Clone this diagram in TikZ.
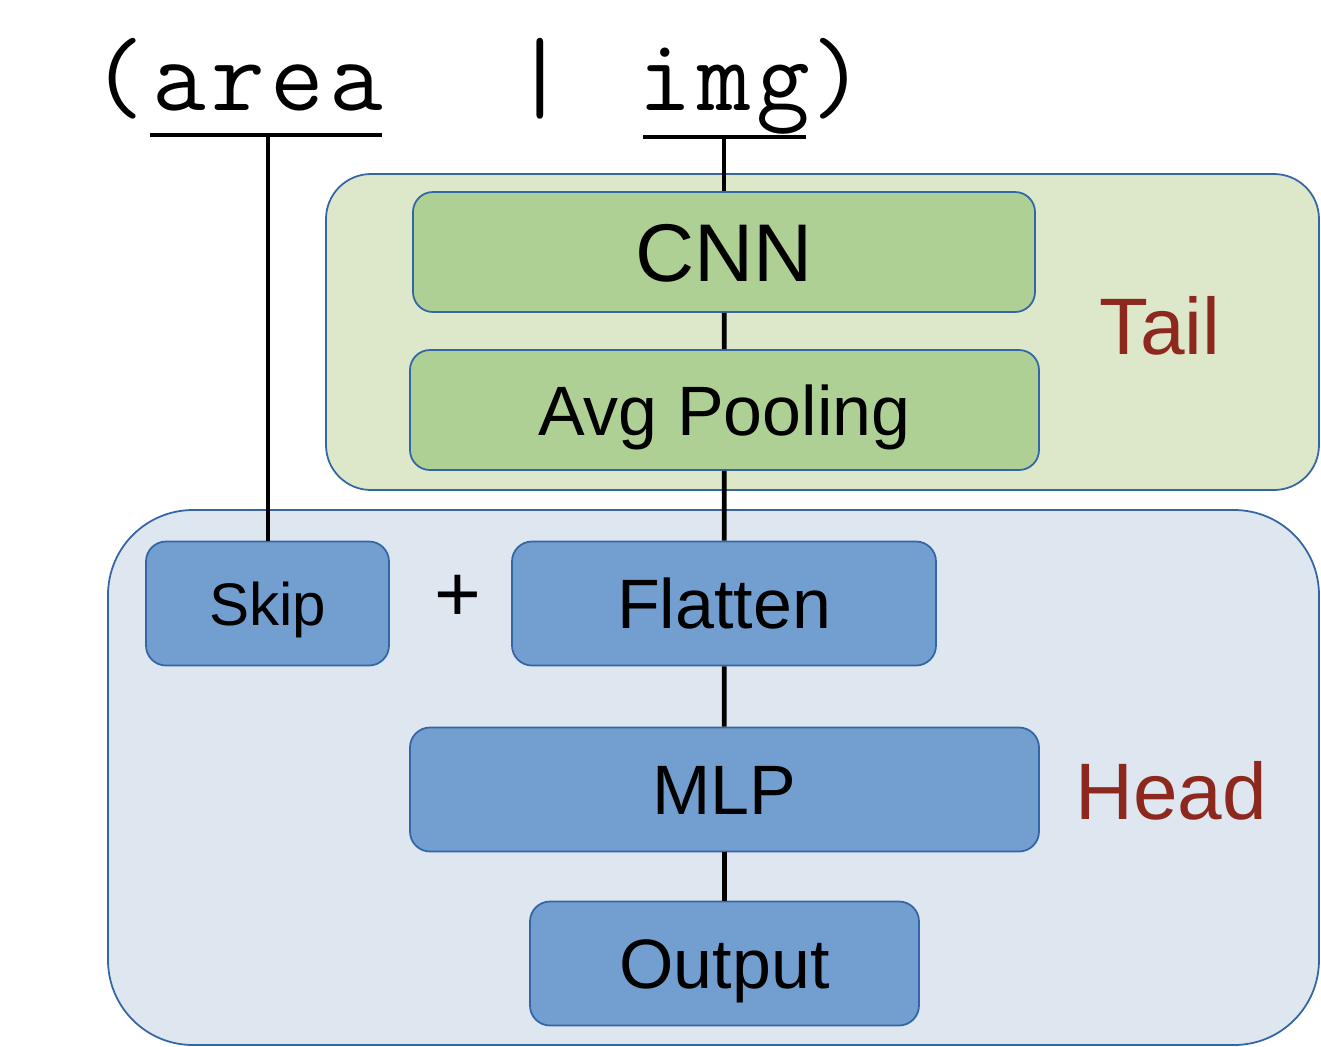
\documentclass[tikz,border=0pt]{standalone}
\usepackage{fontspec}
\setmainfont{Liberation Sans}
\newfontfamily\exprfont[LetterSpace=5.2]{Latin Modern Mono}
\usepackage{tikz}

\definecolor{tailfill}{HTML}{DDE8CB}
\definecolor{greenfill}{HTML}{AFD095}
\definecolor{headfill}{HTML}{DEE6EF}
\definecolor{bluefill}{HTML}{729FCF}
\definecolor{edgeblue}{HTML}{3465A4}
\definecolor{labelred}{HTML}{8D281E}

\begin{document}
\begin{tikzpicture}
\tikzstyle{every node}+=[inner sep=0pt]
\tikzstyle{wire}=[black, line width=1.35pt]
\tikzstyle{tailbox}=[draw=edgeblue, fill=greenfill, line width=0.5pt, rounded corners=0.2cm, minimum height=1.2cm, text depth=0pt]
\tikzstyle{headbox}=[draw=edgeblue, fill=bluefill, line width=0.5pt, rounded corners=0.2cm, minimum height=1.24cm, text depth=0pt, text height=0.5cm, font=\fontsize{19.9}{24}\selectfont]
\tikzstyle{mono}=[anchor=base, font=\exprfont\fontsize{29.6}{34}\selectfont]
\tikzstyle{partlabel}=[labelred, font=\fontsize{22.8}{27}\selectfont]
\useasboundingbox (0,0) rectangle (13.21,-10.47);
% background regions
\draw [edgeblue, fill=tailfill, line width=0.5pt, rounded corners=0.45cm] (3.26,-1.74) rectangle (13.19,-4.90);
\draw [edgeblue, fill=headfill, line width=0.5pt, rounded corners=0.85cm] (1.08,-5.10) rectangle (13.19,-10.45);
% input expression
\node [mono] (lpar) at (1.18,-1.10) {(};
\node [mono] (area) at (2.68,-1.10) {area};
\node [mono] (bar) at (5.40,-1.10) {|};
\node [mono] (img) at (7.24,-1.10) {img};
\node [mono] (rpar) at (8.38,-1.10) {)};
\coordinate (arealine) at (2.68,-1.35);
\coordinate (imgline) at (7.24,-1.37);
\draw [wire] (1.50,-1.35) -- (3.82,-1.35);
\draw [wire] (6.43,-1.37) -- (8.06,-1.37);
% blocks
\node [tailbox, minimum width=6.22cm, text height=0.59cm, font=\fontsize{23.3}{28}\selectfont] (cnn) at (7.24,-2.52) {CNN};
\node [tailbox, minimum width=6.29cm, text height=0.5cm, font=\fontsize{19.9}{24}\selectfont] (pool) at (7.245,-4.10) {Avg Pooling};
\node [headbox, minimum width=2.43cm, text height=0.43cm, font=\fontsize{17.1}{20}\selectfont] (skip) at (2.675,-6.035) {Skip};
\node [headbox, minimum width=4.24cm] (flat) at (7.24,-6.035) {Flatten};
\node [headbox, minimum width=6.29cm] (mlp) at (7.245,-7.895) {MLP};
\node [headbox, minimum width=3.89cm] (out) at (7.245,-9.635) {Output};
\node [font=\fontsize{22.8}{27}\selectfont] (plus) at (4.58,-5.98) {+};
\node [partlabel] (tail) at (11.60,-3.26) {Tail};
\node [partlabel] (head) at (11.71,-7.91) {Head};
% connectors
\draw [wire] (arealine) -- (skip.north -| arealine);
\draw [wire] (imgline) -- (cnn.north);
\draw [wire] (cnn) -- (pool);
\draw [wire] (pool) -- (flat);
\draw [wire] (flat) -- (mlp);
\draw [wire] (mlp) -- (out);
\end{tikzpicture}
\end{document}
